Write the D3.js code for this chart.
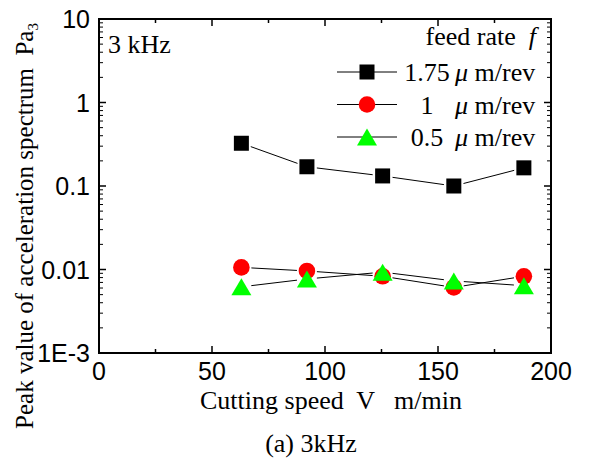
<!DOCTYPE html>
<html>
<head>
<meta charset="utf-8">
<script src="https://cdn.jsdelivr.net/npm/d3@7"></script>
<style>
  body { margin: 0; background: #fff; }
  svg { display: block; }
  .serif { font-family: "Liberation Serif", "Times New Roman", serif; white-space: pre; }
  .sans { font-family: "Liberation Sans", Arial, sans-serif; }
</style>
</head>
<body>
<div id="chart"></div>
<script>
// cutting speed V (m/min)
const speeds = [63, 92, 125.5, 157, 188];
// peak value of acceleration spectrum Pa3
const feed175 = [0.325, 0.17, 0.132, 0.1, 0.165];
const feed1 = [0.0106, 0.0096, 0.0083, 0.0061, 0.0083];
const feed05 = [0.0062, 0.0077, 0.0093, 0.0073, 0.0064];

const seriesNames = ["1.75", "1", "0.5"];
const seriesColors = ["#000000", "#ff0000", "#00ff00"];
const seriesShapes = ["square", "circle", "triangle"];

const xTicks = [0, 50, 100, 150, 200];
const yTicks = [1e-3, 0.01, 0.1, 1, 10];
const yTickLabels = ["1E-3", "0.01", "0.1", "1", "10"];

const series = [feed175, feed1, feed05].map((vals, i) => ({
    name: seriesNames[i],
    color: seriesColors[i],
    shape: seriesShapes[i],
    points: vals.map((v, j) => ({x: speeds[j], y: v}))
}));

const W = 589, H = 461;
const margin = {top: 19, right: 38, bottom: 108, left: 99};
const width = W - margin.left - margin.right;
const height = H - margin.top - margin.bottom;

const svg = d3.select("#chart").append("svg")
    .attr("width", W)
    .attr("height", H);

const g = svg.append("g")
    .attr("transform", `translate(${margin.left},${margin.top})`);

const x = d3.scaleLinear().domain([0, 200]).range([0, width]);
const y = d3.scaleLog().domain([1e-3, 10]).range([height, 0]);

// minor ticks
const xMinor = d3.range(25, 200, 50);
const yMinor = [];
[1e-3, 0.01, 0.1, 1].forEach(d => { for (let k = 2; k <= 9; k++) yMinor.push(d * k); });

const axisG = g.append("g").attr("stroke", "#000").attr("stroke-width", 1.5);

// x ticks bottom + top (inward)
xTicks.forEach(t => {
    axisG.append("line").attr("x1", x(t)).attr("x2", x(t)).attr("y1", height).attr("y2", height - 7);
    axisG.append("line").attr("x1", x(t)).attr("x2", x(t)).attr("y1", 0).attr("y2", 7);
});
xMinor.forEach(t => {
    axisG.append("line").attr("x1", x(t)).attr("x2", x(t)).attr("y1", height).attr("y2", height - 4);
    axisG.append("line").attr("x1", x(t)).attr("x2", x(t)).attr("y1", 0).attr("y2", 4);
});
// y ticks left + right (inward)
yTicks.forEach(t => {
    axisG.append("line").attr("x1", 0).attr("x2", 7).attr("y1", y(t)).attr("y2", y(t));
    axisG.append("line").attr("x1", width).attr("x2", width - 7).attr("y1", y(t)).attr("y2", y(t));
});
yMinor.forEach(t => {
    axisG.append("line").attr("x1", 0).attr("x2", 4).attr("y1", y(t)).attr("y2", y(t)).attr("stroke-width", 1);
    axisG.append("line").attr("x1", width).attr("x2", width - 4).attr("y1", y(t)).attr("y2", y(t)).attr("stroke-width", 1);
});

// frame
g.append("rect")
    .attr("width", width).attr("height", height)
    .attr("fill", "none").attr("stroke", "#000").attr("stroke-width", 2);

// tick labels
g.selectAll(".xlab").data(xTicks).enter().append("text")
    .attr("class", "sans")
    .attr("x", d => x(d))
    .attr("y", height + 27)
    .attr("text-anchor", "middle")
    .attr("font-size", 25)
    .text(d => d);

g.selectAll(".ylab").data(yTicks).enter().append("text")
    .attr("class", "sans")
    .attr("x", -9)
    .attr("y", d => y(d))
    .attr("dy", "0.36em")
    .attr("text-anchor", "end")
    .attr("font-size", 25)
    .text((d, i) => yTickLabels[i]);

// connecting lines, shortened so they stop short of the markers
const gap = 10;
series.forEach(s => {
    for (let j = 0; j < s.points.length - 1; j++) {
        const x1 = x(s.points[j].x), y1 = y(s.points[j].y);
        const x2 = x(s.points[j + 1].x), y2 = y(s.points[j + 1].y);
        const len = Math.hypot(x2 - x1, y2 - y1);
        const ux = (x2 - x1) / len, uy = (y2 - y1) / len;
        g.append("line")
            .attr("x1", x1 + ux * gap).attr("y1", y1 + uy * gap)
            .attr("x2", x2 - ux * gap).attr("y2", y2 - uy * gap)
            .attr("stroke", "#000").attr("stroke-width", 1);
    }
});

function drawMarker(sel, shape, color, cx, cy) {
    if (shape === "square") {
        sel.append("rect").attr("x", cx - 7.5).attr("y", cy - 7.5)
            .attr("width", 15).attr("height", 15).attr("fill", color);
    } else if (shape === "circle") {
        sel.append("circle").attr("cx", cx).attr("cy", cy).attr("r", 8.3).attr("fill", color);
    } else {
        sel.append("path")
            .attr("d", `M${cx},${cy - 8.5}L${cx + 10},${cy + 8.5}L${cx - 10},${cy + 8.5}Z`)
            .attr("fill", color);
    }
}

series.forEach(s => {
    s.points.forEach(p => drawMarker(g, s.shape, s.color, x(p.x), y(p.y)));
});

// "3 kHz" label
svg.append("text").attr("class", "serif")
    .attr("x", 108).attr("y", 53)
    .attr("font-size", 26)
    .text("3 kHz");

// legend
const leg = svg.append("g");
const legT = leg.append("text").attr("class", "serif")
    .attr("x", 536).attr("y", 45)
    .attr("text-anchor", "end")
    .attr("font-size", 26);
legT.append("tspan").text("feed rate  ");
legT.append("tspan").attr("font-style", "italic").text("f");

series.forEach((s, i) => {
    const cy = 72 + i * 32.5;
    leg.append("line").attr("x1", 337).attr("x2", 397).attr("y1", cy).attr("y2", cy)
        .attr("stroke", "#000").attr("stroke-width", 1);
    drawMarker(leg, s.shape, s.color, 367, cy);
    leg.append("text").attr("class", "serif")
        .attr("x", 427).attr("y", cy + 9)
        .attr("text-anchor", "middle")
        .attr("font-size", 26)
        .text(s.name);
    const u = leg.append("text").attr("class", "serif")
        .attr("x", 455).attr("y", cy + 9)
        .attr("font-size", 26);
    u.append("tspan").attr("font-style", "italic").text("μ");
    u.append("tspan").text(" m/rev");
});

// axis titles
svg.append("text").attr("class", "serif")
    .attr("x", 331).attr("y", 409)
    .attr("text-anchor", "middle")
    .attr("font-size", 26)
    .text("Cutting speed  V   m/min");

const yt = svg.append("text").attr("class", "serif")
    .attr("transform", "translate(33,226) rotate(-90)")
    .attr("text-anchor", "middle")
    .attr("font-size", 25);
yt.append("tspan").text("Peak value of acceleration spectrum  Pa");
yt.append("tspan").attr("font-size", 15).attr("dy", 5).text("3");

svg.append("text").attr("class", "serif")
    .attr("x", 311).attr("y", 452)
    .attr("text-anchor", "middle")
    .attr("font-size", 26)
    .text("(a) 3kHz");
</script>
</body>
</html>
